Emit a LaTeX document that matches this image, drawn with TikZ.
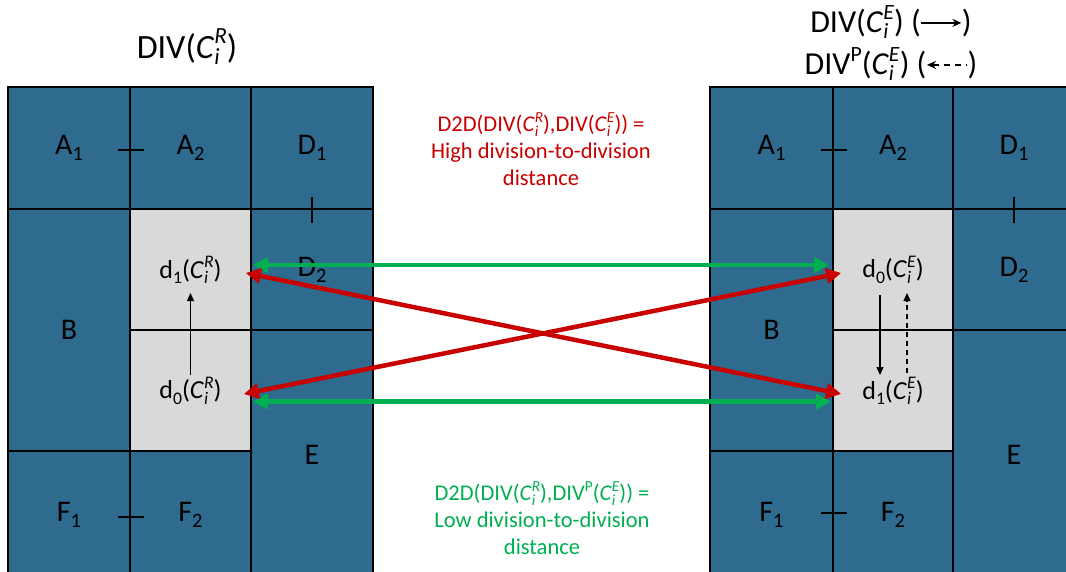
\documentclass[tikz,border=0pt]{standalone}
\usepackage{fontspec}
\setmainfont{Carlito}
\usetikzlibrary{arrows.meta}
\definecolor{cellblue}{RGB}{46,107,143}
\definecolor{cellgray}{RGB}{217,217,217}
\definecolor{hired}{RGB}{200,0,0}
\definecolor{logreen}{RGB}{0,176,80}
\makeatletter
\newcommand\mysup[1]{\raisebox{0.42em}{\fontsize{\the\dimexpr0.68\dimexpr\f@size pt\relax\relax}{1pt}\selectfont #1}}
\newcommand\mysub[1]{\raisebox{-0.2em}{\fontsize{\the\dimexpr0.68\dimexpr\f@size pt\relax\relax}{1pt}\selectfont #1}}
\makeatother
\newcommand\Ci[1]{\textit{C}\rlap{\mysub{\textit{i}}}\mysup{\textit{#1}}}
\newcommand\tarrowsolid{\tikz[x=1pt,y=1pt,baseline=-0.3em]\draw[line width=1.2pt,-{Stealth[length=9pt,width=8pt]}] (0,0) -- (40,0);}
\newcommand\tarrowdash{\tikz[x=1pt,y=1pt,baseline=-0.3em]\draw[line width=1.2pt,dash pattern=on 6pt off 5pt,{Stealth[length=9pt,width=8pt]}-] (0,0) -- (40,0);}
\begin{document}
\begin{tikzpicture}[x=1pt,y=-1pt,
  cellb/.style={draw=black,line width=1.6pt,fill=cellblue,inner sep=0pt,font=\fontsize{30}{34}\selectfont},
  cellg/.style={cellb,fill=cellgray,font=\fontsize{26}{30}\selectfont},
  tickmark/.style={draw=black,line width=2.4pt},
  greenarr/.style={draw=logreen,line width=4.5pt,{Triangle[length=15pt,width=15pt]}-{Triangle[length=15pt,width=15pt]}},
  redarr/.style={draw=hired,line width=4.5pt,{Triangle[length=15pt,width=15pt]}-{Triangle[length=15pt,width=15pt]}},
  blkarr/.style={draw=black,line width=1.2pt,-{Triangle[length=8pt,width=7pt]}},
  blkdash/.style={blkarr,dash pattern=on 5pt off 4pt},
  title/.style={inner sep=0pt,font=\fontsize{34}{40}\selectfont},
  rtitle/.style={inner sep=0pt,font=\fontsize{32}{38}\selectfont},
  note/.style={align=center,inner sep=0pt,font=\fontsize{22.5}{27}\selectfont}
]
\useasboundingbox (0,0) rectangle (1066,571);
\clip (0,0) rectangle (1066,571);
% ---------- left grid ----------
\node[cellb,minimum width=122pt,minimum height=122pt] (LA1) at (69,148) {A\mysub{1}};
\node[cellb,minimum width=121pt,minimum height=122pt] (LA2) at (190.5,148) {A\mysub{2}};
\node[cellb,minimum width=122pt,minimum height=122pt] (LD1) at (312,148) {D\mysub{1}};
\node[cellb,minimum width=122pt,minimum height=242pt] (LB) at (69,330) {B};
\node[cellg,minimum width=121pt,minimum height=121pt] (Ld1) at (190.5,269.5) {d\mysub{1}(\Ci{R})};
\node[cellb,minimum width=122pt,minimum height=121pt] (LD2) at (312,269.5) {D\mysub{2}};
\node[cellg,minimum width=121pt,minimum height=121pt] (Ld0) at (190.5,390.5) {d\mysub{0}(\Ci{R})};
\node[cellb,minimum width=122pt,minimum height=250pt] (LE) at (312,455) {E};
\node[cellb,minimum width=122pt,minimum height=128pt] (LF1) at (69,515) {F\mysub{1}};
\node[cellb,minimum width=121pt,minimum height=128pt] (LF2) at (190.5,515) {F\mysub{2}};
% ---------- right grid ----------
\node[cellb,minimum width=123pt,minimum height=122pt] (RA1) at (771.5,148) {A\mysub{1}};
\node[cellb,minimum width=120pt,minimum height=122pt] (RA2) at (893,148) {A\mysub{2}};
\node[cellb,minimum width=122pt,minimum height=122pt] (RD1) at (1014,148) {D\mysub{1}};
\node[cellb,minimum width=123pt,minimum height=242pt] (RB) at (771.5,330) {B};
\node[cellg,minimum width=120pt,minimum height=121pt] (Rd0) at (893,269.5) {d\mysub{0}(\Ci{E})};
\node[cellb,minimum width=122pt,minimum height=121pt] (RD2) at (1014,269.5) {D\mysub{2}};
\node[cellg,minimum width=120pt,minimum height=121pt] (Rd1) at (893,390.5) {d\mysub{1}(\Ci{E})};
\node[cellb,minimum width=122pt,minimum height=250pt] (RE) at (1014,455) {E};
\node[cellb,minimum width=123pt,minimum height=128pt] (RF1) at (771.5,515) {F\mysub{1}};
\node[cellb,minimum width=120pt,minimum height=128pt] (RF2) at (893,515) {F\mysub{2}};
% ---------- tick marks ----------
\draw[tickmark] ([xshift=-13pt,yshift=-2pt]LA1.east) -- ([xshift=13pt,yshift=-2pt]LA1.east);
\draw[tickmark] ([yshift=13pt]LD1.south) -- ([yshift=-13pt]LD1.south);
\draw[tickmark] ([xshift=-13pt,yshift=-2pt]LF1.east) -- ([xshift=13pt,yshift=-2pt]LF1.east);
\draw[tickmark] ([xshift=-13pt,yshift=-2pt]RA1.east) -- ([xshift=13pt,yshift=-2pt]RA1.east);
\draw[tickmark] ([yshift=13pt]RD1.south) -- ([yshift=-13pt]RD1.south);
\draw[tickmark] ([xshift=-13pt,yshift=2pt]RF1.east) -- ([xshift=13pt,yshift=2pt]RF1.east);
% ---------- titles ----------
\node[title] (tL) at (187,47) {DIV(\Ci{R})};
\node[rtitle] (tR1) at (891,22) {DIV(\Ci{E}) (\tarrowsolid)};
\node[rtitle] (tR2) at (891,64) {DIV\mysup{P}(\Ci{E}) (\tarrowdash)};
% ---------- notes ----------
\node[note,text=hired] (nHigh) at (541,149) {D2D(DIV(\Ci{R}),DIV(\Ci{E})) =\\High division-to-division\\distance};
\node[note,text=logreen] (nLow) at (542,518) {D2D(DIV(\Ci{R}),DIV\mysup{P}(\Ci{E})) =\\Low division-to-division\\distance};
% ---------- arrows ----------
\draw[greenarr] ([xshift=1pt,yshift=4.5pt]Ld1.east) -- ([xshift=-3pt,yshift=4.5pt]Rd0.west);
\draw[greenarr] ([xshift=1pt,yshift=-11pt]Ld0.east) -- ([xshift=-1pt,yshift=-11pt]Rd1.west);
\draw[redarr] ([xshift=-6pt,yshift=-3.5pt]Ld1.east) -- ([xshift=9pt,yshift=-3.5pt]Rd1.west);
\draw[redarr] ([xshift=-8pt,yshift=-3.5pt]Ld0.east) -- ([xshift=9pt,yshift=-3.5pt]Rd0.west);
\draw[blkarr] ([yshift=15.5pt]Ld0.center) -- ([yshift=-23.5pt]Ld1.center);
\draw[blkarr] ([xshift=-13pt,yshift=-25.5pt]Rd0.center) -- ([xshift=-13pt,yshift=15.5pt]Rd1.center);
\draw[blkdash] ([xshift=14pt,yshift=17.5pt]Rd1.center) -- ([xshift=14pt,yshift=-23.5pt]Rd0.center);
\end{tikzpicture}
\end{document}
